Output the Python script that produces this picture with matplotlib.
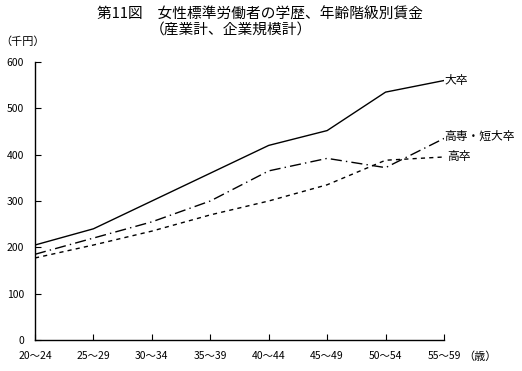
import matplotlib.pyplot as plt

plt.rcParams["font.family"] = ["Noto Sans CJK JP", "DejaVu Sans"]

ages = ["20～24", "25～29", "30～34", "35～39", "40～44", "45～49", "50～54", "55～59"]
daisotsu = [205, 240, 300, 360, 420, 452, 535, 560]
tandai = [185, 220, 255, 300, 365, 392, 372, 435]
kousotsu = [177, 205, 235, 270, 300, 335, 388, 395]

fig = plt.figure(figsize=(5.22, 3.71), dpi=100)
ax = fig.add_axes([35 / 522, 1 - 340 / 371, (444 - 35) / 522, (340 - 62) / 371])

x = range(len(ages))
ax.plot(x, daisotsu, color="black", lw=1, ls="-")
ax.plot(x, tandai, color="black", lw=1, ls=(0, (8, 3, 1, 3)))
ax.plot(x, kousotsu, color="black", lw=1, ls=(0, (3, 3)))

ax.text(7, daisotsu[-1], "大卒", fontsize=8.5, va="center", ha="left")
ax.text(7, tandai[-1] + 5, "高専・短大卒", fontsize=8.5, va="center", ha="left")
ax.text(7.05, kousotsu[-1], "高卒", fontsize=8.5, va="center", ha="left")

ax.set_xlim(0, 7)
ax.set_ylim(0, 600)
ax.set_yticks(range(0, 601, 100))
ax.set_xticks(x)
ax.set_xticklabels(ages, fontsize=7.5)
ax.tick_params(axis="y", labelsize=7.5, direction="in", length=4, pad=8)
ax.tick_params(axis="x", direction="in", length=4, pad=8)
for s in ["top", "right"]:
    ax.spines[s].set_visible(False)
for s in ["left", "bottom"]:
    ax.spines[s].set_linewidth(1)

fig.text(97 / 522, 1 - 15 / 371, "第11図　女性標準労働者の学歴、年齢階級別賃金", fontsize=10.6, va="center")
fig.text(150 / 522, 1 - 31 / 371, "（産業計、企業規模計）", fontsize=10.6, va="center")
fig.text(0, 1 - 42 / 371, "（千円）", fontsize=8, va="center")
fig.text(463 / 522, 1 - 357 / 371, "（歳）", fontsize=8, va="center")

fig.savefig("out.png", dpi=100, facecolor="white")
